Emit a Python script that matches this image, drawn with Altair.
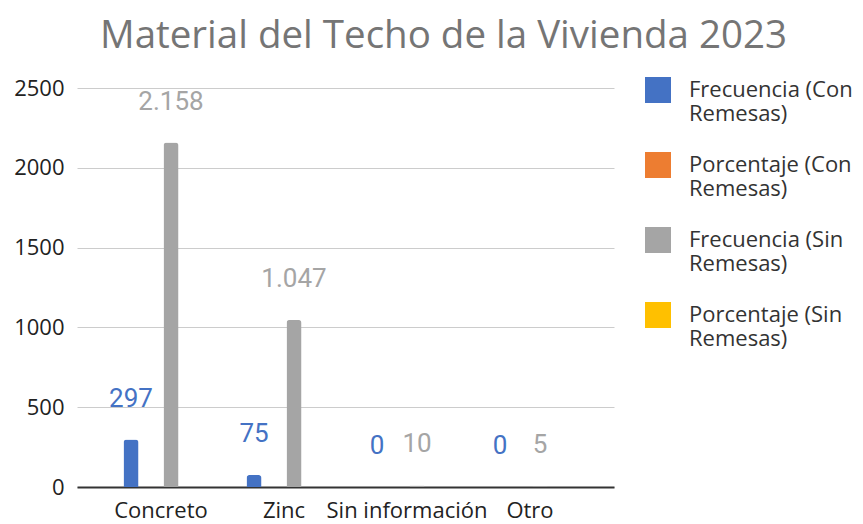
import altair as alt
import pandas as pd

categorias = ["Concreto", "Zinc", "Sin información", "Otro"]
series = [
    "Frecuencia (Con Remesas)",
    "Porcentaje (Con Remesas)",
    "Frecuencia (Sin Remesas)",
    "Porcentaje (Sin Remesas)",
]
colores = ["#4472C4", "#ED7D31", "#A5A5A5", "#FFC000"]

frec_con = [297, 75, 0, 0]
pct_con = [0.80, 0.20, 0.0, 0.0]
frec_sin = [2158, 1047, 10, 5]
pct_sin = [0.67, 0.33, 0.003, 0.002]

y_ticks = [0, 500, 1000, 1500, 2000, 2500]

rows = []
for s, vals in zip(series, [frec_con, pct_con, frec_sin, pct_sin]):
    for c, v in zip(categorias, vals):
        lab = f"{v:,}".replace(",", ".") if s.startswith("Frecuencia") else ""
        rows.append({"categoria": c, "serie": s, "valor": v, "etiqueta": lab})
df = pd.DataFrame(rows)

x = alt.X(
    "categoria:N",
    sort=categorias,
    scale=alt.Scale(paddingInner=0.3496, paddingOuter=0.3577, align=0.5),
    axis=alt.Axis(
        title=None,
        labelAngle=0,
        labelFont="Open Sans",
        labelFontSize=22,
        labelColor="#222222",
        labelPadding=13,
        ticks=False,
        domain=True,
        domainColor="#333333",
        domainWidth=2,
        grid=False,
    ),
)
xoff = alt.XOffset(
    "serie:N", sort=series, scale=alt.Scale(paddingInner=0.25, paddingOuter=0.125)
)
y = alt.Y(
    "valor:Q",
    scale=alt.Scale(domain=[0, 2500], nice=False),
    axis=alt.Axis(
        title=None,
        values=y_ticks,
        format="d",
        labelFont="Open Sans",
        labelFontSize=22,
        labelColor="#222222",
        labelPadding=13,
        ticks=False,
        domain=False,
        grid=True,
        gridColor="#cccccc",
        gridWidth=1,
    ),
)
color = alt.Color(
    "serie:N",
    sort=series,
    scale=alt.Scale(domain=series, range=colores),
    legend=alt.Legend(
        title=None,
        orient="none",
        legendX=568,
        legendY=-11,
        padding=0,
        symbolType="square",
        symbolSize=676,
        symbolStrokeWidth=0,
        labelFont="Open Sans",
        labelFontSize=22,
        labelColor="#333333",
        labelLimit=300,
        labelOffset=18,
        labelBaseline="middle",
        rowPadding=27,
        labelExpr="[slice(datum.label, 0, lastindexof(datum.label, ' ')), slice(datum.label, lastindexof(datum.label, ' ') + 1)]",
    ),
)

bars = alt.Chart(df).mark_bar(cornerRadiusEnd=3).encode(
    x=x, xOffset=xoff, y=y, color=color
)
text = (
    alt.Chart(df)
    .transform_filter("datum.etiqueta != ''")
    .mark_text(dy=-41, fontSize=26, font="Roboto", baseline="middle")
    .encode(x=x, xOffset=xoff, y=y, color=color, text="etiqueta:N")
)

chart = (
    alt.layer(bars, text)
    .properties(
        width=537,
        height=399,
        padding={"left": 69, "top": 80, "right": 241, "bottom": 36},
        autosize=alt.AutoSizeParams(type="none"),
        title=alt.TitleParams(
            "Material del Techo de la Vivienda 2023",
            font="Open Sans",
            fontSize=38.5,
            fontWeight="normal",
            color="#757575",
            anchor="middle",
            dx=98,
            offset=21,
        ),
    )
    .configure_view(stroke=None)
)

chart.save("out.html", embed_options={"renderer": "svg", "actions": False})
